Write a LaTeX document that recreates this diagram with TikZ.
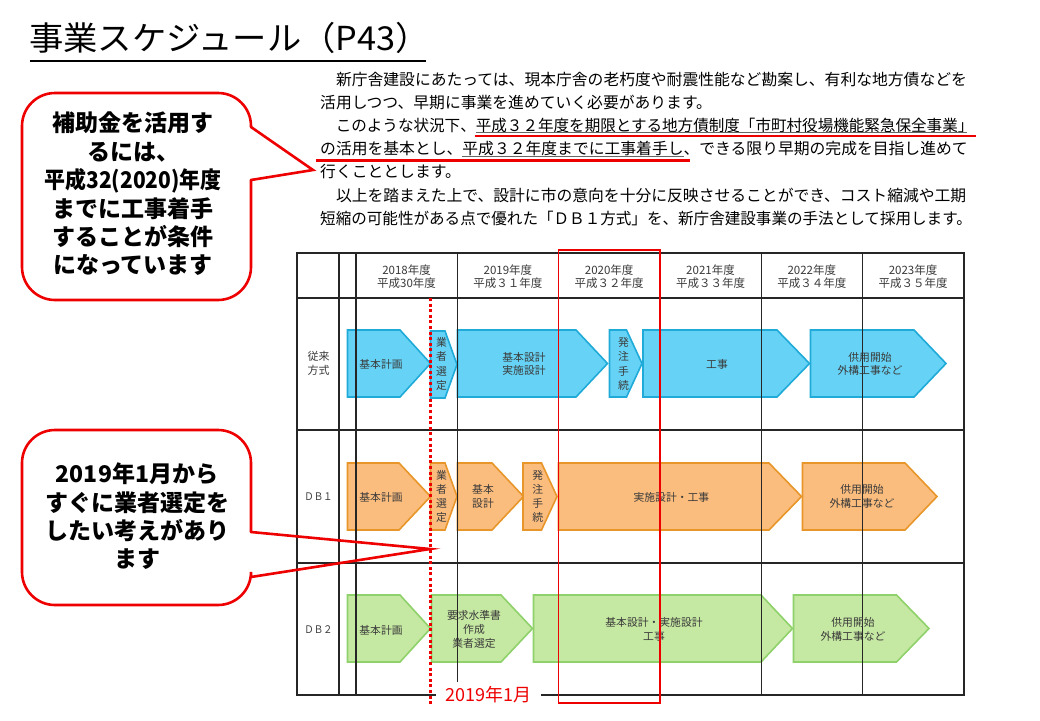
\documentclass[tikz,border=0pt]{standalone}
\usepackage{fontspec}
\setmainfont{Noto Sans CJK JP}
\definecolor{bfill}{HTML}{66D3F6}
\definecolor{bline}{HTML}{1FAAD8}
\definecolor{ofill}{HTML}{FBBD7E}
\definecolor{oline}{HTML}{E8962A}
\definecolor{gfill}{HTML}{C5E8A2}
\definecolor{gline}{HTML}{8FD16A}
\definecolor{txtg}{HTML}{3A3A3A}
\definecolor{cred}{HTML}{EE0000}
\newcommand\mkarrow[6]{\draw[#1] (#2,#5) -- (#3,#5) -- (#4,{(#5+#6)/2}) -- (#3,#6) -- (#2,#6) -- cycle;}
\tikzset{
 para/.style={anchor=west, inner sep=0pt, font=\fontsize{15.8}{18}\selectfont, text=black},
 atxt/.style={inner sep=0pt, align=center, text=txtg, font=\fontsize{10.8}{13.7}\selectfont},
 vtxt/.style={inner sep=0pt, align=center, text=txtg, font=\fontsize{10.8}{14.2}\selectfont},
 hdr/.style={inner sep=0pt, align=center, text=txtg, font=\fontsize{11.5}{13}\selectfont},
 rowlab/.style={inner sep=0pt, align=center, text=txtg, font=\fontsize{11}{13.5}\selectfont},
 blueA/.style={fill=bfill, draw=bline, line width=1.6pt, line join=miter},
 orangeA/.style={fill=ofill, draw=oline, line width=1.6pt, line join=miter},
 greenA/.style={fill=gfill, draw=gline, line width=1.6pt, line join=miter},
 gridline/.style={draw=black!85, line width=1.3pt},
 callout/.style={draw=cred, line width=2.6pt, rounded corners=33pt, line cap=round, fill=white},
 calltail/.style={draw=cred, line width=2.6pt, line cap=round, line join=miter},
 ctext/.style={inner sep=0pt, align=center, font=\fontsize{23}{28.4}\selectfont\bfseries},
 redul/.style={draw=cred, line width=2.2pt},
 grayul/.style={draw=black!60, line width=0.7pt},
}
\begin{document}
\begin{tikzpicture}[x=1pt,y=-1pt]
\useasboundingbox[fill=white] (0,0) rectangle (1040,720);

% title
\node[anchor=west, inner sep=0pt, font=\fontsize{33}{36}\selectfont] (title) at (29,38) {\scalebox{1.04}[1]{事業スケジュール（P43）}};
\draw[line width=2pt] (30,61) -- (426,61);

% paragraph
\node[para] (p1) at (320,79.5) {　新庁舎建設にあたっては、現本庁舎の老朽度や耐震性能など勘案し、有利な地方債などを};
\node[para] (p2) at (320,102.6) {活用しつつ、早期に事業を進めていく必要があります。};
\node[para] (p3) at (320,125.7) {\scalebox{0.985}[1]{　このような状況下、平成３２年度を期限とする地方債制度「市町村役場機能緊急保全事業」}};
\node[para] (p4) at (320,148.8) {の活用を基本とし、平成３２年度までに工事着手し、できる限り早期の完成を目指し進めて};
\node[para] (p5) at (320,171.9) {行くこととします。};
\node[para] (p6) at (320,195) {　以上を踏まえた上で、設計に市の意向を十分に反映させることができ、コスト縮減や工期};
\node[para] (p7) at (320,218.1) {\scalebox{0.985}[1]{短縮の可能性がある点で優れた「ＤＢ１方式」を、新庁舎建設事業の手法として採用します。}};
\draw[grayul] (476,132.5) -- (967,132.5);
\draw[grayul] (462,156.5) -- (684,156.5);
\draw[redul] (475,136) -- (976,136);
\draw[redul] (316,160.5) -- (690,160.5);

% arrows row 1
\mkarrow{blueA}{347.5}{400}{430.5}{330}{397}
\mkarrow{blueA}{430.5}{445}{457}{331}{398}
\mkarrow{blueA}{457.5}{576}{607.5}{330}{397}
\mkarrow{blueA}{609.5}{626.5}{642}{330}{397}
\mkarrow{blueA}{643}{777}{809.5}{330}{397}
\mkarrow{blueA}{810.5}{914}{946}{330}{397}
% arrows row 2
\mkarrow{orangeA}{347.5}{399}{430.5}{463}{530}
\mkarrow{orangeA}{430.5}{445}{457}{463}{530}
\mkarrow{orangeA}{457.5}{492}{523.5}{463}{530}
\mkarrow{orangeA}{523}{541.5}{557}{463}{530}
\mkarrow{orangeA}{558.5}{769}{801.5}{463}{530}
\mkarrow{orangeA}{802.5}{905}{937}{463}{530}
% arrows row 3
\mkarrow{greenA}{347.5}{400}{430.5}{595}{662}
\mkarrow{greenA}{431.5}{501}{532.5}{595}{662}
\mkarrow{greenA}{533.5}{761}{792.5}{595}{662}
\mkarrow{greenA}{793.5}{896.5}{929}{595}{662}

% grid
\draw[gridline, line width=1.7pt] (297,253) rectangle (964,695);
\foreach \x in {339,356,457.3,558.6,659.9,761.2,862.5} \draw[gridline] (\x,253) -- (\x,695);
\foreach \y in {298,430,563} \draw[gridline] (297,\y) -- (964,\y);

% header
\node[hdr] (h1) at (406.6,276.5) {2018年度\\平成30年度};
\node[hdr] (h2) at (507.9,276.5) {2019年度\\平成３１年度};
\node[hdr] (h3) at (609.2,276.5) {2020年度\\平成３２年度};
\node[hdr] (h4) at (710.5,276.5) {2021年度\\平成３３年度};
\node[hdr] (h5) at (811.8,276.5) {2022年度\\平成３４年度};
\node[hdr] (h6) at (913.1,276.5) {2023年度\\平成３５年度};

% row labels
\node[rowlab] (lab1) at (318.5,363.5) {従来\\方式};
\node[rowlab, font=\fontsize{10.5}{13}\selectfont] (lab2) at (318.5,496.5) {\scalebox{0.9}[1]{ＤＢ１}};
\node[rowlab, font=\fontsize{10.5}{13}\selectfont] (lab3) at (318.5,630) {\scalebox{0.9}[1]{ＤＢ２}};

% arrow texts row 1
\node[atxt] (t11) at (381,364) {基本計画};
\node[vtxt] (t12) at (441.6,364) {業\\者\\選\\定};
\node[atxt] (t13) at (524,364) {基本設計\\実施設計};
\node[vtxt] (t14) at (623.5,364) {発\\注\\手\\続};
\node[atxt] (t15) at (717,364) {工事};
\node[atxt] (t16) at (870,364) {供用開始\\外構工事など};
% row 2
\node[atxt] (t21) at (381,497) {基本計画};
\node[vtxt] (t22) at (441.6,496.5) {業\\者\\選\\定};
\node[atxt] (t23) at (483,496.7) {基本\\設計};
\node[vtxt] (t24) at (537.7,496.5) {発\\注\\手\\続};
\node[atxt] (t25) at (671.4,497) {実施設計・工事};
\node[atxt] (t26) at (862,496.7) {供用開始\\外構工事など};
% row 3
\node[atxt] (t31) at (381,630) {基本計画};
\node[atxt, font=\fontsize{10.8}{14}\selectfont] (t32) at (474,629.3) {要求水準書\\作成\\業者選定};
\node[atxt] (t33) at (654,629.7) {基本設計・実施設計\\工事};
\node[atxt] (t34) at (853,629.7) {供用開始\\外構工事など};

% red markers
\draw[cred, line width=1.2pt] (558.6,250) rectangle (659.9,703);
\node[fill=white, text=cred, inner xsep=10pt, inner ysep=5pt, font=\fontsize{18}{20}\selectfont] (jan) at (488.5,695) {2019年1月};
\coordinate (dtop) at (430.5,298);
\coordinate (dbot) at (430.5,706);
\draw[cred, line width=2.4pt, dash pattern=on 3pt off 2.6pt] (dtop) -- (dbot);

% callout 1
\draw[callout] (251,180) -- (251,300) -- (22,300) -- (22,93) -- (251,93) -- (251,127);
\coordinate (tip1) at (313,170);
\draw[calltail] (251,127) -- (tip1) -- (251,180);
\node[ctext] (c1) at (133,194) {補助金を活用す\\るには、\\\scalebox{0.91}[1]{平成32(2020)年度}\\までに工事着手\\することが条件\\になっています};

% callout 2
\draw[callout] (251,577) -- (251,605) -- (22,605) -- (22,430) -- (251,430) -- (251,532);
\coordinate (tip2) at (430,549);
\draw[calltail] (251,532) -- (tip2) -- (251,577);
\node[ctext] (c2) at (137,516.5) {2019年1月から\\すぐに業者選定を\\したい考えがあり\\ます};
\end{tikzpicture}
\end{document}
